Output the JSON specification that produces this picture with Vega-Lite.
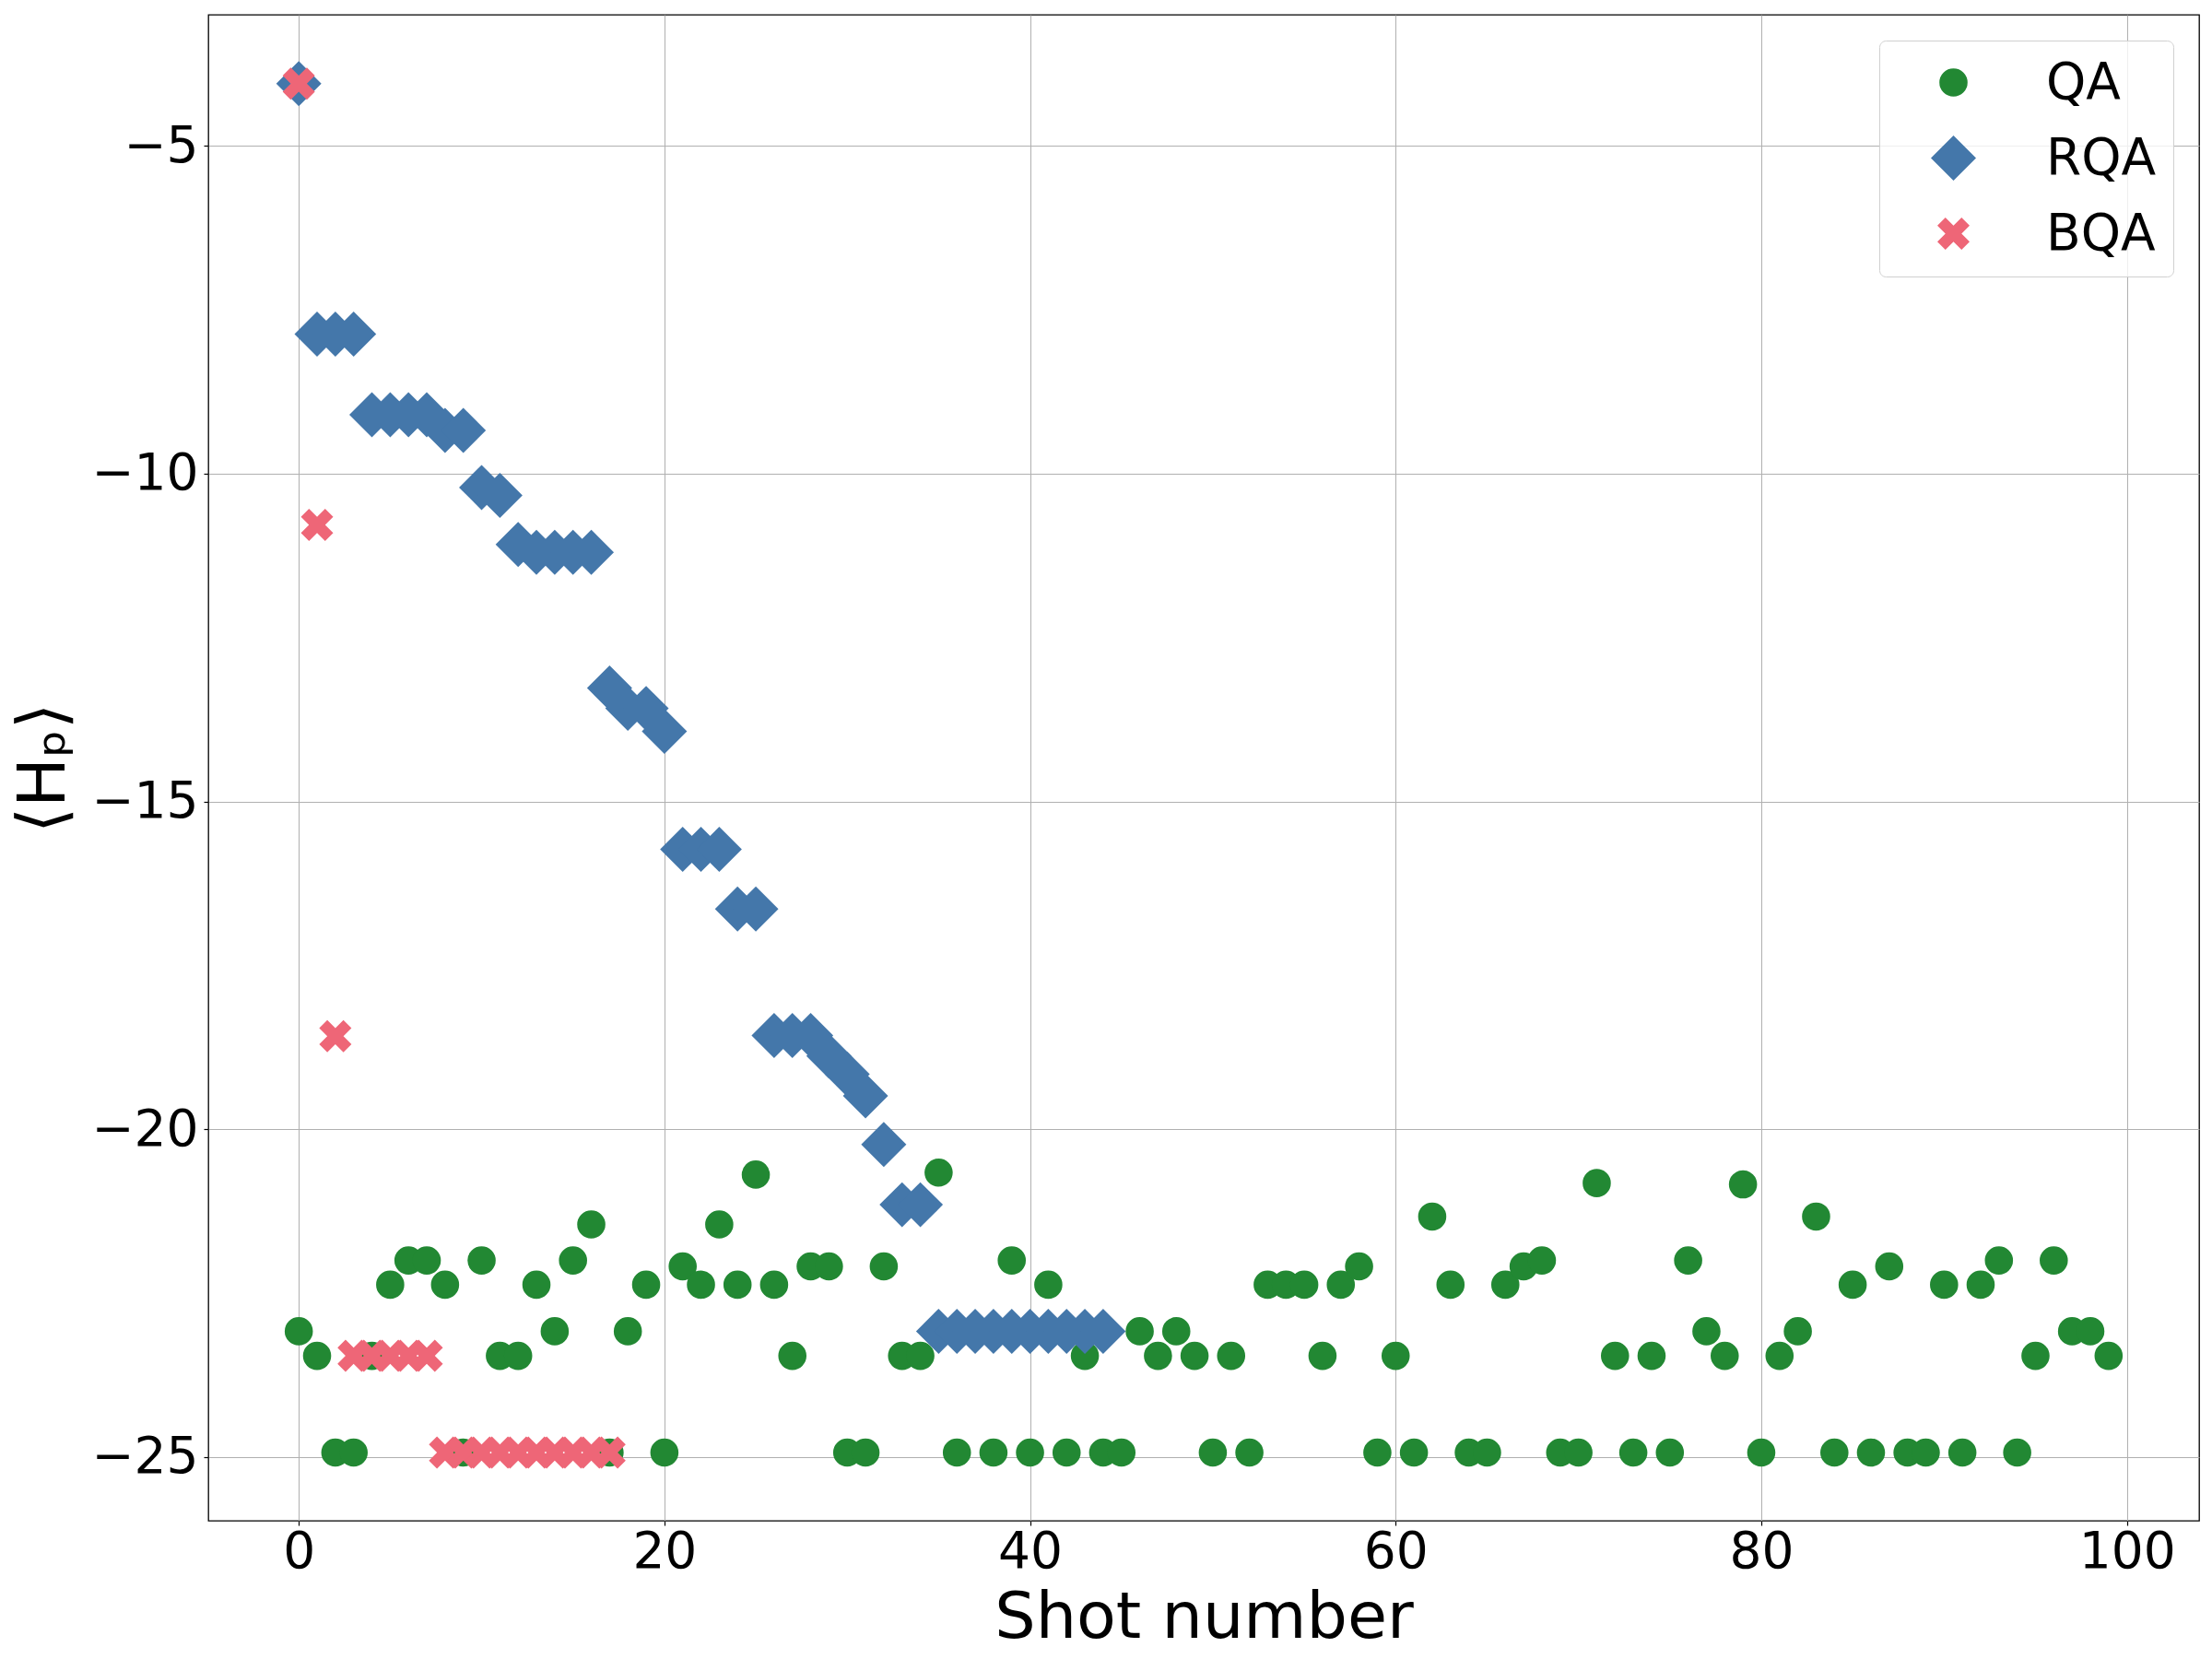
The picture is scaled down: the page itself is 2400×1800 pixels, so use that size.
{
  "$schema": "https://vega.github.io/schema/vega-lite/v6.json",
  "autosize": {"type": "none"},
  "padding": {"left": 226, "top": 16, "right": 14, "bottom": 150},
  "width": 2160,
  "height": 1634,
  "background": "white",
  "config": {
    "font": "DejaVu Sans",
    "view": {"stroke": "black", "strokeWidth": 1.3},
    "axis": {
      "labelFontSize": 55,
      "titleFontSize": 70,
      "titleFontWeight": "normal",
      "labelColor": "black",
      "titleColor": "black",
      "tickColor": "black",
      "tickSize": 5,
      "tickWidth": 1.2,
      "domain": false,
      "grid": true,
      "gridColor": "#b0b0b0",
      "gridWidth": 1,
      "labelPadding": 2,
      "labelOverlap": false
    },
    "axisX": {"titlePadding": 10, "labelFlush": false},
    "axisY": {"labelPadding": 6, "titlePadding": 14, "titleFontSize": 72}
  },
  "data": {
    "values": [
      {"method": "QA", "shot": 0, "H": -23.08},
      {"method": "QA", "shot": 1, "H": -23.455},
      {"method": "QA", "shot": 2, "H": -24.93},
      {"method": "QA", "shot": 3, "H": -24.93},
      {"method": "QA", "shot": 4, "H": -23.455},
      {"method": "QA", "shot": 5, "H": -22.37},
      {"method": "QA", "shot": 6, "H": -22.0},
      {"method": "QA", "shot": 7, "H": -22.0},
      {"method": "QA", "shot": 8, "H": -22.37},
      {"method": "QA", "shot": 9, "H": -24.93},
      {"method": "QA", "shot": 10, "H": -22.0},
      {"method": "QA", "shot": 11, "H": -23.455},
      {"method": "QA", "shot": 12, "H": -23.455},
      {"method": "QA", "shot": 13, "H": -22.37},
      {"method": "QA", "shot": 14, "H": -23.08},
      {"method": "QA", "shot": 15, "H": -22.0},
      {"method": "QA", "shot": 16, "H": -21.45},
      {"method": "QA", "shot": 17, "H": -24.93},
      {"method": "QA", "shot": 18, "H": -23.08},
      {"method": "QA", "shot": 19, "H": -22.37},
      {"method": "QA", "shot": 20, "H": -24.93},
      {"method": "QA", "shot": 21, "H": -22.09},
      {"method": "QA", "shot": 22, "H": -22.37},
      {"method": "QA", "shot": 23, "H": -21.45},
      {"method": "QA", "shot": 24, "H": -22.37},
      {"method": "QA", "shot": 25, "H": -20.69},
      {"method": "QA", "shot": 26, "H": -22.37},
      {"method": "QA", "shot": 27, "H": -23.455},
      {"method": "QA", "shot": 28, "H": -22.09},
      {"method": "QA", "shot": 29, "H": -22.09},
      {"method": "QA", "shot": 30, "H": -24.93},
      {"method": "QA", "shot": 31, "H": -24.93},
      {"method": "QA", "shot": 32, "H": -22.09},
      {"method": "QA", "shot": 33, "H": -23.455},
      {"method": "QA", "shot": 34, "H": -23.455},
      {"method": "QA", "shot": 35, "H": -20.66},
      {"method": "QA", "shot": 36, "H": -24.93},
      {"method": "QA", "shot": 37, "H": -23.08},
      {"method": "QA", "shot": 38, "H": -24.93},
      {"method": "QA", "shot": 39, "H": -22.0},
      {"method": "QA", "shot": 40, "H": -24.93},
      {"method": "QA", "shot": 41, "H": -22.37},
      {"method": "QA", "shot": 42, "H": -24.93},
      {"method": "QA", "shot": 43, "H": -23.455},
      {"method": "QA", "shot": 44, "H": -24.93},
      {"method": "QA", "shot": 45, "H": -24.93},
      {"method": "QA", "shot": 46, "H": -23.08},
      {"method": "QA", "shot": 47, "H": -23.455},
      {"method": "QA", "shot": 48, "H": -23.08},
      {"method": "QA", "shot": 49, "H": -23.455},
      {"method": "QA", "shot": 50, "H": -24.93},
      {"method": "QA", "shot": 51, "H": -23.455},
      {"method": "QA", "shot": 52, "H": -24.93},
      {"method": "QA", "shot": 53, "H": -22.37},
      {"method": "QA", "shot": 54, "H": -22.37},
      {"method": "QA", "shot": 55, "H": -22.37},
      {"method": "QA", "shot": 56, "H": -23.455},
      {"method": "QA", "shot": 57, "H": -22.37},
      {"method": "QA", "shot": 58, "H": -22.09},
      {"method": "QA", "shot": 59, "H": -24.93},
      {"method": "QA", "shot": 60, "H": -23.455},
      {"method": "QA", "shot": 61, "H": -24.93},
      {"method": "QA", "shot": 62, "H": -21.33},
      {"method": "QA", "shot": 63, "H": -22.37},
      {"method": "QA", "shot": 64, "H": -24.93},
      {"method": "QA", "shot": 65, "H": -24.93},
      {"method": "QA", "shot": 66, "H": -22.37},
      {"method": "QA", "shot": 67, "H": -22.09},
      {"method": "QA", "shot": 68, "H": -22.0},
      {"method": "QA", "shot": 69, "H": -24.93},
      {"method": "QA", "shot": 70, "H": -24.93},
      {"method": "QA", "shot": 71, "H": -20.82},
      {"method": "QA", "shot": 72, "H": -23.455},
      {"method": "QA", "shot": 73, "H": -24.93},
      {"method": "QA", "shot": 74, "H": -23.455},
      {"method": "QA", "shot": 75, "H": -24.93},
      {"method": "QA", "shot": 76, "H": -22.0},
      {"method": "QA", "shot": 77, "H": -23.08},
      {"method": "QA", "shot": 78, "H": -23.455},
      {"method": "QA", "shot": 79, "H": -20.84},
      {"method": "QA", "shot": 80, "H": -24.93},
      {"method": "QA", "shot": 81, "H": -23.455},
      {"method": "QA", "shot": 82, "H": -23.08},
      {"method": "QA", "shot": 83, "H": -21.33},
      {"method": "QA", "shot": 84, "H": -24.93},
      {"method": "QA", "shot": 85, "H": -22.37},
      {"method": "QA", "shot": 86, "H": -24.93},
      {"method": "QA", "shot": 87, "H": -22.09},
      {"method": "QA", "shot": 88, "H": -24.93},
      {"method": "QA", "shot": 89, "H": -24.93},
      {"method": "QA", "shot": 90, "H": -22.37},
      {"method": "QA", "shot": 91, "H": -24.93},
      {"method": "QA", "shot": 92, "H": -22.37},
      {"method": "QA", "shot": 93, "H": -22.0},
      {"method": "QA", "shot": 94, "H": -24.93},
      {"method": "QA", "shot": 95, "H": -23.455},
      {"method": "QA", "shot": 96, "H": -22.0},
      {"method": "QA", "shot": 97, "H": -23.08},
      {"method": "QA", "shot": 98, "H": -23.08},
      {"method": "QA", "shot": 99, "H": -23.455},
      {"method": "RQA", "shot": 0, "H": -4.05},
      {"method": "RQA", "shot": 1, "H": -7.87},
      {"method": "RQA", "shot": 2, "H": -7.87},
      {"method": "RQA", "shot": 3, "H": -7.87},
      {"method": "RQA", "shot": 4, "H": -9.1},
      {"method": "RQA", "shot": 5, "H": -9.1},
      {"method": "RQA", "shot": 6, "H": -9.1},
      {"method": "RQA", "shot": 7, "H": -9.1},
      {"method": "RQA", "shot": 8, "H": -9.34},
      {"method": "RQA", "shot": 9, "H": -9.34},
      {"method": "RQA", "shot": 10, "H": -10.21},
      {"method": "RQA", "shot": 11, "H": -10.33},
      {"method": "RQA", "shot": 12, "H": -11.08},
      {"method": "RQA", "shot": 13, "H": -11.2},
      {"method": "RQA", "shot": 14, "H": -11.2},
      {"method": "RQA", "shot": 15, "H": -11.2},
      {"method": "RQA", "shot": 16, "H": -11.2},
      {"method": "RQA", "shot": 17, "H": -13.27},
      {"method": "RQA", "shot": 18, "H": -13.58},
      {"method": "RQA", "shot": 19, "H": -13.58},
      {"method": "RQA", "shot": 20, "H": -13.93},
      {"method": "RQA", "shot": 21, "H": -15.73},
      {"method": "RQA", "shot": 22, "H": -15.73},
      {"method": "RQA", "shot": 23, "H": -15.73},
      {"method": "RQA", "shot": 24, "H": -16.64},
      {"method": "RQA", "shot": 25, "H": -16.64},
      {"method": "RQA", "shot": 26, "H": -18.57},
      {"method": "RQA", "shot": 27, "H": -18.57},
      {"method": "RQA", "shot": 28, "H": -18.57},
      {"method": "RQA", "shot": 29, "H": -18.88},
      {"method": "RQA", "shot": 30, "H": -19.16},
      {"method": "RQA", "shot": 31, "H": -19.49},
      {"method": "RQA", "shot": 32, "H": -20.23},
      {"method": "RQA", "shot": 33, "H": -21.15},
      {"method": "RQA", "shot": 34, "H": -21.15},
      {"method": "RQA", "shot": 35, "H": -23.08},
      {"method": "RQA", "shot": 36, "H": -23.08},
      {"method": "RQA", "shot": 37, "H": -23.08},
      {"method": "RQA", "shot": 38, "H": -23.08},
      {"method": "RQA", "shot": 39, "H": -23.08},
      {"method": "RQA", "shot": 40, "H": -23.08},
      {"method": "RQA", "shot": 41, "H": -23.08},
      {"method": "RQA", "shot": 42, "H": -23.08},
      {"method": "RQA", "shot": 43, "H": -23.08},
      {"method": "RQA", "shot": 44, "H": -23.08},
      {"method": "BQA", "shot": 0, "H": -4.05},
      {"method": "BQA", "shot": 1, "H": -10.78},
      {"method": "BQA", "shot": 2, "H": -18.58},
      {"method": "BQA", "shot": 3, "H": -23.455},
      {"method": "BQA", "shot": 4, "H": -23.455},
      {"method": "BQA", "shot": 5, "H": -23.455},
      {"method": "BQA", "shot": 6, "H": -23.455},
      {"method": "BQA", "shot": 7, "H": -23.455},
      {"method": "BQA", "shot": 8, "H": -24.93},
      {"method": "BQA", "shot": 9, "H": -24.93},
      {"method": "BQA", "shot": 10, "H": -24.93},
      {"method": "BQA", "shot": 11, "H": -24.93},
      {"method": "BQA", "shot": 12, "H": -24.93},
      {"method": "BQA", "shot": 13, "H": -24.93},
      {"method": "BQA", "shot": 14, "H": -24.93},
      {"method": "BQA", "shot": 15, "H": -24.93},
      {"method": "BQA", "shot": 16, "H": -24.93},
      {"method": "BQA", "shot": 17, "H": -24.93}
    ]
  },
  "mark": {"type": "point", "filled": true, "opacity": 1, "strokeWidth": 0},
  "encoding": {
    "x": {
      "field": "shot",
      "type": "quantitative",
      "scale": {"domain": [-4.95, 103.95], "nice": false, "zero": false},
      "axis": {"values": [0, 20, 40, 60, 80, 100], "title": "Shot number"}
    },
    "y": {
      "field": "H",
      "type": "quantitative",
      "scale": {"domain": [-25.97, -3.0], "nice": false, "zero": false},
      "axis": {"values": [-25, -20, -15, -10, -5], "title": "⟨Hₚ⟩"}
    },
    "color": {
      "field": "method",
      "type": "nominal",
      "scale": {"domain": ["QA", "RQA", "BQA"], "range": ["#228833", "#4477AA", "#EE6677"]},
      "legend": {
        "title": null,
        "orient": "top-right",
        "offset": 28,
        "padding": 18,
        "labelFontSize": 55,
        "labelColor": "black",
        "symbolOffset": 35,
        "labelOffset": 73,
        "rowPadding": 26,
        "fillColor": "rgba(255,255,255,0.8)",
        "strokeColor": "#d0d0d0",
        "cornerRadius": 7,
        "symbolStrokeWidth": 0
      }
    },
    "shape": {
      "field": "method",
      "type": "nominal",
      "scale": {"domain": ["QA", "RQA", "BQA"], "range": ["circle", "diamond", "M0.5,-1L1,-0.5L0.5,0L1,0.5L0.5,1L0,0.5L-0.5,1L-1,0.5L-0.5,0L-1,-0.5L-0.5,-1L0,-0.5Z"]},
      "legend": {"title": null}
    },
    "size": {
      "field": "method",
      "type": "nominal",
      "scale": {"type": "ordinal", "domain": ["QA", "RQA", "BQA"], "range": [935, 2400, 1225]},
      "legend": {"title": null}
    }
  }
}
